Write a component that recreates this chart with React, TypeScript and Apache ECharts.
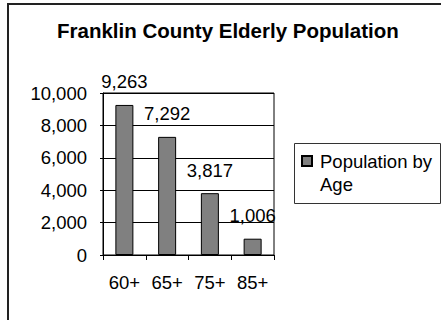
import React, { useEffect, useRef } from "react";
import * as echarts from "echarts";

const categories = ["60+", "65+", "75+", "85+"];
const populationByAge = [9263, 7292, 3817, 1006];
const seriesName = "Population by Age";
const legendLines = ["Population by", "Age"];
const titleText = "Franklin County Elderly Population";

const FONT = "'Liberation Sans', Arial, sans-serif";
const FS = 18.5;
const fmt = (v: number) => v.toLocaleString("en-US");

export default function App() {
  const ref = useRef<HTMLDivElement>(null);
  useEffect(() => {
    if (!ref.current) return;
    const chart = echarts.init(ref.current, null, { renderer: "svg" });
    chart.setOption({
      animation: false,
      backgroundColor: "#ffffff",
      title: {
        text: titleText,
        left: 57,
        top: 20,
        padding: 0,
        textStyle: { fontFamily: FONT, fontSize: 20.5, fontWeight: "bold", color: "#000" },
      },
      graphic: [
        {
          type: "rect",
          shape: { x: 8, y: 4, width: 450, height: 330 },
          style: { fill: "none", stroke: "#222", lineWidth: 2 },
          silent: true,
        },
        {
          type: "rect",
          shape: { x: 294.5, y: 143.5, width: 146, height: 60 },
          style: { fill: "none", stroke: "#333", lineWidth: 1 },
          silent: true,
          z: 10,
        },
      ],
      legend: {
        left: 301,
        top: 126.5,
        orient: "vertical",
        padding: 0,
        borderWidth: 0,
        itemWidth: 10,
        itemHeight: 10,
        icon: "rect",
        formatter: () => "\u00A0\n" + legendLines.join("\n"),
        textStyle: {
          fontFamily: FONT,
          fontSize: FS,
          lineHeight: 23,
          color: "#000",
          padding: [0, 0, 0, 3],
        },
        data: [seriesName],
      },
      grid: {
        left: 103,
        top: 93,
        width: 171,
        height: 162,
        show: true,
        borderColor: "#000",
        borderWidth: 1,
        backgroundColor: "transparent",
      },
      xAxis: {
        type: "category",
        data: categories,
        axisLine: { lineStyle: { color: "#000", width: 1 } },
        axisTick: { show: true, alignWithLabel: false, length: 5, lineStyle: { color: "#000" } },
        axisLabel: { fontFamily: FONT, fontSize: FS, color: "#000", margin: 18 },
        splitLine: { show: false },
      },
      yAxis: {
        type: "value",
        min: 0,
        max: 10000,
        interval: 2000,
        axisLine: { show: true, lineStyle: { color: "#000", width: 1 } },
        axisTick: { show: true, length: 3, lineStyle: { color: "#000" } },
        axisLabel: { fontFamily: FONT, fontSize: FS, color: "#000", margin: 16, formatter: (v: number) => fmt(v) },
        splitLine: { show: true, lineStyle: { color: "#000", width: 1 } },
      },
      series: [
        {
          name: seriesName,
          type: "bar",
          data: populationByAge,
          barWidth: 18,
          itemStyle: { color: "#808080", borderColor: "#000", borderWidth: 1 },
          label: {
            show: true,
            position: "top",
            distance: 13.5,
            fontFamily: FONT,
            fontSize: FS,
            color: "#000",
            formatter: (p: any) => fmt(p.value),
          },
        },
      ],
    });
    return () => chart.dispose();
  }, []);
  return (
    <div
      ref={ref}
      style={{ position: "fixed", left: 0, top: 0, width: 441, height: 320, background: "#fff" }}
    />
  );
}
